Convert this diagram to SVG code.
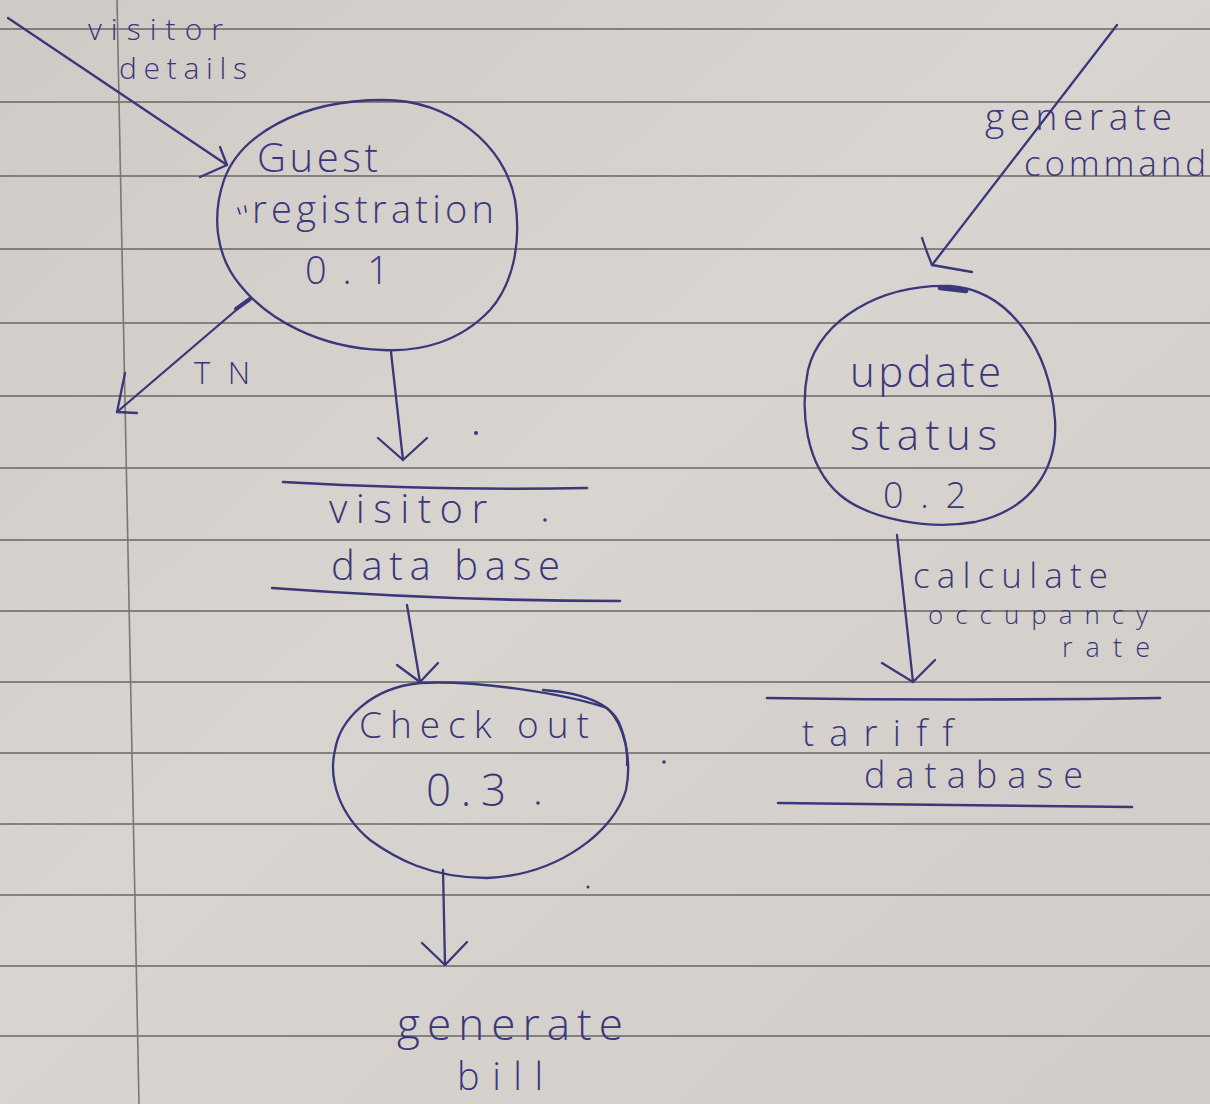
<svg xmlns="http://www.w3.org/2000/svg" width="1210" height="1104" viewBox="0 0 1210 1104">
  <defs>
    <linearGradient id="paper" x1="0" y1="0" x2="1" y2="1">
      <stop offset="0" stop-color="#cfcac5"/>
      <stop offset="0.45" stop-color="#d8d4cf"/>
      <stop offset="1" stop-color="#d1ccc7"/>
    </linearGradient>
    <style>
      .rule { stroke: #4f4d4c; stroke-width: 1.5; opacity: 0.8; }
      .margin { stroke: #7a7775; stroke-width: 1.6; fill: none; }
      .ink { stroke: #3a377a; stroke-width: 2.3; fill: none; stroke-linecap: round; stroke-linejoin: round; }
      .store { stroke: #3a377a; stroke-width: 2.6; fill: none; stroke-linecap: round; }
      .dot { fill: #3a377a; }
      text { font-family: "Open Sans", "Liberation Sans", sans-serif; font-weight: 300; fill: #3a377a;
             font-variant-ligatures: none; font-feature-settings: "liga" 0; }
    </style>
  </defs>

  <!-- notebook page -->
  <rect width="1210" height="1104" fill="url(#paper)"/>
  <g id="ruling">
    <line class="rule" x1="0" y1="29" x2="1210" y2="29"/>
    <line class="rule" x1="0" y1="102" x2="1210" y2="102"/>
    <line class="rule" x1="0" y1="176" x2="1210" y2="176"/>
    <line class="rule" x1="0" y1="249" x2="1210" y2="249"/>
    <line class="rule" x1="0" y1="323" x2="1210" y2="323"/>
    <line class="rule" x1="0" y1="396" x2="1210" y2="396"/>
    <line class="rule" x1="0" y1="468" x2="1210" y2="468"/>
    <line class="rule" x1="0" y1="540" x2="1210" y2="540"/>
    <line class="rule" x1="0" y1="611" x2="1210" y2="611"/>
    <line class="rule" x1="0" y1="682" x2="1210" y2="682"/>
    <line class="rule" x1="0" y1="753" x2="1210" y2="753"/>
    <line class="rule" x1="0" y1="824" x2="1210" y2="824"/>
    <line class="rule" x1="0" y1="895" x2="1210" y2="895"/>
    <line class="rule" x1="0" y1="966" x2="1210" y2="966"/>
    <line class="rule" x1="0" y1="1036" x2="1210" y2="1036"/>
    <line class="margin" x1="117" y1="0" x2="139" y2="1104"/>
  </g>

  <!-- data flows -->
  <g id="connectors">
    <path class="ink" d="M8,18 L227,165"/>
    <path class="ink" d="M220,147 L227,165 L200,177"/>
    <text x="88" y="40" font-size="30" textLength="135" lengthAdjust="spacing">visitor</text>
    <text x="119" y="79" font-size="30" textLength="128" lengthAdjust="spacing">details</text>

    <path class="ink" d="M248,300 L117,412"/>
    <path class="ink" style="stroke-width:4" d="M250,299 L236,309"/>
    <path class="ink" d="M125,373 L117,412 L137,413"/>
    <text x="194" y="384" font-size="31" textLength="56" lengthAdjust="spacing">TN</text>

    <path class="ink" d="M391,352 L403,460"/>
    <path class="ink" d="M378,438 L403,460 L427,438"/>

    <path class="ink" d="M407,605 L420,682"/>
    <path class="ink" d="M397,665 L420,682 L438,663"/>

    <path class="ink" d="M443,870 L445,965"/>
    <path class="ink" d="M422,943 L445,965 L467,942"/>
    <text x="397" y="1040" font-size="44" textLength="226" lengthAdjust="spacing">generate</text>
    <text x="457" y="1090" font-size="38" textLength="86" lengthAdjust="spacing">bill</text>

    <path class="ink" d="M1117,25 L932,265"/>
    <path class="ink" d="M922,238 Q926,250 932,265 L972,272"/>
    <text x="985" y="130" font-size="37" textLength="187" lengthAdjust="spacing">generate</text>
    <text x="1024" y="176" font-size="35" textLength="182" lengthAdjust="spacing">command</text>

    <path class="ink" d="M897,535 L913,682"/>
    <path class="ink" d="M882,663 L913,682 L935,660"/>
    <text x="913" y="588" font-size="35" textLength="195" lengthAdjust="spacing">calculate</text>
    <text x="928" y="624" font-size="26" textLength="220" lengthAdjust="spacing">occupancy</text>
    <text x="1062" y="657" font-size="27" textLength="88" lengthAdjust="spacing">rate</text>
  </g>

  <!-- process 0.1 -->
  <g id="guest-registration">
    <path class="ink" d="M383,100 C450,100 505,145 515,200 C522,245 512,285 490,310 C460,342 420,352 383,350 C320,348 268,320 240,285 C215,255 212,215 224,180 C240,135 300,100 383,100 Z"/>
    <path class="ink" style="stroke-width:1.6" d="M238,208 L240,214 M245,206 L246,212"/>
    <text x="257" y="172" font-size="40" textLength="121" lengthAdjust="spacing">Guest</text>
    <text x="252" y="223" font-size="38" textLength="242" lengthAdjust="spacing">registration</text>
    <text x="305" y="284" font-size="38" textLength="84" lengthAdjust="spacing">0.1</text>
  </g>

  <!-- process 0.2 -->
  <g id="update-status">
    <path class="ink" d="M950,286 C1010,290 1050,350 1055,420 C1058,470 1030,510 975,522 C930,530 870,520 840,495 C805,465 800,410 808,370 C820,320 880,284 950,286 Z"/>
    <path class="ink" style="stroke-width:4.5" d="M940,288 L966,291"/>
    <text x="850" y="387" font-size="42" textLength="151" lengthAdjust="spacing">update</text>
    <text x="850" y="450" font-size="42" textLength="147" lengthAdjust="spacing">status</text>
    <text x="883" y="508" font-size="36" textLength="83" lengthAdjust="spacing">0.2</text>
  </g>

  <!-- process 0.3 -->
  <g id="check-out">
    <path class="ink" d="M420,683 C470,680 560,692 607,708 C625,725 632,760 626,790 C615,830 560,875 487,878 C430,878 395,858 370,840 C340,815 328,780 335,750 C340,720 370,688 420,683 Z"/>
    <path class="ink" d="M543,690 C585,693 612,705 620,725 C626,740 628,752 627,765"/>
    <text x="359" y="738" font-size="37" textLength="230" lengthAdjust="spacing">Check out</text>
    <text x="426" y="806" font-size="44" textLength="80" lengthAdjust="spacing">0.3</text>
  </g>

  <!-- data store: visitor database -->
  <g id="visitor-database">
    <path class="store" d="M283,482 Q450,491 587,488"/>
    <path class="store" d="M272,588 Q450,601 620,601"/>
    <text x="329" y="523" font-size="40" textLength="158" lengthAdjust="spacing">visitor</text>
    <text x="331" y="580" font-size="40" textLength="229" lengthAdjust="spacing">data base</text>
  </g>

  <!-- data store: tariff database -->
  <g id="tariff-database">
    <path class="store" d="M767,698 Q960,701 1160,698"/>
    <path class="store" d="M778,803 Q950,805 1132,807"/>
    <text x="802" y="746" font-size="36" textLength="151" lengthAdjust="spacing">tariff</text>
    <text x="864" y="788" font-size="36" textLength="219" lengthAdjust="spacing">database</text>
  </g>

  <!-- stray pen dots -->
  <g id="marks">
    <circle class="dot" cx="476" cy="433" r="2"/>
    <circle class="dot" cx="545" cy="520" r="1.8"/>
    <circle class="dot" cx="538" cy="803" r="1.8"/>
    <circle class="dot" cx="664" cy="762" r="1.8"/>
    <circle class="dot" cx="588" cy="887" r="1.5"/>
  </g>
</svg>
